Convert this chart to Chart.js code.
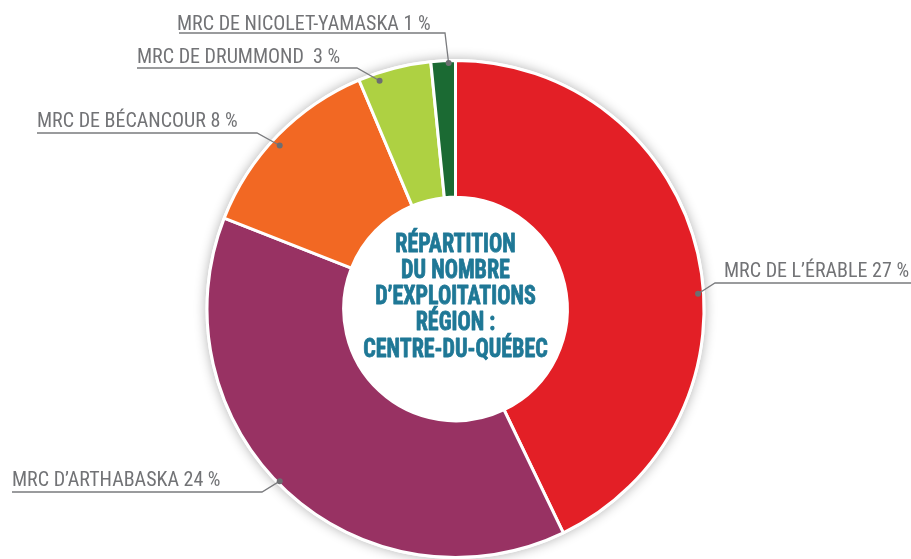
<!DOCTYPE html>
<html>
<head>
<meta charset="utf-8">
<script src="https://cdn.jsdelivr.net/npm/chart.js@4"></script>
<style>
  html, body { margin: 0; padding: 0; background: #ffffff; }
  #wrap { width: 911px; height: 559px; }
</style>
</head>
<body>
<div id="wrap"><canvas id="c" width="911" height="559"></canvas></div>
<script>
// ---- data ----
const categories = ["MRC DE L’ÉRABLE", "MRC D’ARTHABASKA", "MRC DE BÉCANCOUR", "MRC DE DRUMMOND", "MRC DE NICOLET-YAMASKA"];
const values = [27, 24, 8, 3, 1];
const labelTexts = ["MRC DE L’ÉRABLE 27 %", "MRC D’ARTHABASKA 24 %", "MRC DE BÉCANCOUR 8 %", "MRC DE DRUMMOND  3 %", "MRC DE NICOLET-YAMASKA 1 %"];
const sliceColors = ["#e31f26", "#983263", "#f26823", "#aed142", "#1b6a33"];
const centerLines = ["RÉPARTITION", "DU NOMBRE", "D’EXPLOITATIONS", "RÉGION :", "CENTRE-DU-QUÉBEC"];

// ---- label layout (annotation placement, not data) ----
const labelLayout = [
  { frac: 0.56, rFrac: 0.978, elbowX: 715, lineY: 283, lineEnd: 911, textX: 724, baseY: 277 },
  { frac: 0.52, rFrac: 0.99,  elbowX: 262, lineY: 492, lineEnd: 12,  textX: 12,  baseY: 486 },
  { frac: 0.47, rFrac: 0.966, elbowX: 257, lineY: 133, lineEnd: 37,  textX: 37,  baseY: 127 },
  { frac: 0.26, rFrac: 0.968, elbowX: 357, lineY: 68,  lineEnd: 137, textX: 137, baseY: 63 },
  { frac: 0.72, rFrac: 0.99,  elbowX: 445, lineY: 33,  lineEnd: 179, textX: 177, baseY: 30 }
];

const FONT_NARROW = '"Liberation Sans Narrow", "Roboto Condensed", "Arial Narrow", "DejaVu Sans Condensed", sans-serif';

const shadowPlugin = {
  id: 'ringShadow',
  beforeDatasetsDraw(chart) {
    const arc = chart.getDatasetMeta(0).data[0];
    if (!arc) return;
    const ctx = chart.ctx;
    ctx.save();
    ctx.shadowColor = 'rgba(0,0,0,0.30)';
    ctx.shadowBlur = 12;
    ctx.fillStyle = '#ffffff';
    ctx.beginPath();
    ctx.arc(arc.x, arc.y, arc.outerRadius + 1.5, 0, Math.PI * 2);
    ctx.fill();
    ctx.restore();
  }
};

const labelPlugin = {
  id: 'leaderLabels',
  afterDatasetsDraw(chart) {
    const ctx = chart.ctx;
    const arcs = chart.getDatasetMeta(0).data;
    ctx.save();
    arcs.forEach((arc, i) => {
      const L = labelLayout[i];
      const a = arc.startAngle + (arc.endAngle - arc.startAngle) * L.frac;
      const r = arc.outerRadius * L.rFrac;
      const px = arc.x + r * Math.cos(a);
      const py = arc.y + r * Math.sin(a);
      ctx.strokeStyle = '#7a7b7e';
      ctx.lineWidth = 1.3;
      ctx.beginPath();
      ctx.moveTo(px, py);
      ctx.lineTo(L.elbowX, L.lineY);
      ctx.lineTo(L.lineEnd, L.lineY);
      ctx.stroke();
      ctx.fillStyle = '#6d6e71';
      ctx.beginPath();
      ctx.arc(px, py, 3, 0, Math.PI * 2);
      ctx.fill();
      ctx.font = '20px ' + FONT_NARROW;
      ctx.fillStyle = '#727376';
      ctx.textAlign = 'left';
      ctx.textBaseline = 'alphabetic';
      ctx.fillText(labelTexts[i], L.textX, L.baseY);
    });

    // centre title
    const c = arcs[0];
    ctx.font = 'bold 25px ' + FONT_NARROW;
    ctx.fillStyle = '#1f7896';
    ctx.strokeStyle = '#1f7896';
    ctx.lineWidth = 0.8;
    ctx.lineJoin = 'round';
    ctx.textAlign = 'center';
    ctx.textBaseline = 'alphabetic';
    const scaleX = 0.88;
    const pitch = 26.25;
    const firstBase = -57.5;
    centerLines.forEach((t, k) => {
      ctx.save();
      ctx.translate(c.x, c.y + firstBase + k * pitch);
      ctx.scale(scaleX, 1);
      ctx.fillText(t, 0, 0);
      ctx.strokeText(t, 0, 0);
      ctx.restore();
    });
    ctx.restore();
  }
};

new Chart(document.getElementById('c'), {
  type: 'doughnut',
  data: {
    labels: categories,
    datasets: [{
      data: values,
      backgroundColor: sliceColors,
      borderColor: '#ffffff',
      borderWidth: 3,
      hoverOffset: 0
    }]
  },
  options: {
    responsive: false,
    animation: false,
    cutout: '45%',
    layout: { padding: { top: 59, bottom: 0, left: 0, right: 0 } },
    plugins: {
      legend: { display: false },
      tooltip: { enabled: false }
    }
  },
  plugins: [shadowPlugin, labelPlugin]
});
</script>
</body>
</html>
